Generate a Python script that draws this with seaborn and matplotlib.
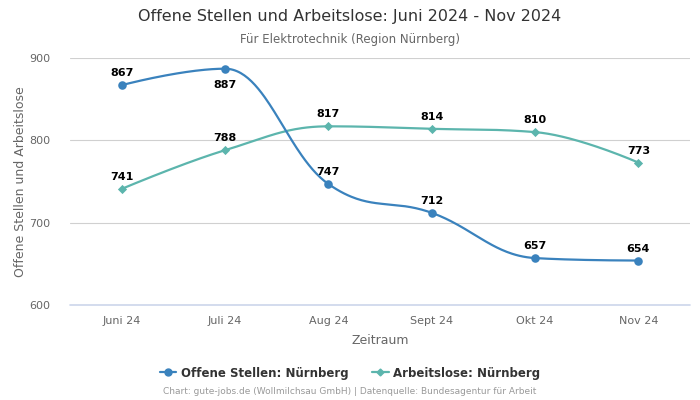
import numpy as np
import pandas as pd
import matplotlib
matplotlib.use("Agg")
import matplotlib.pyplot as plt
import seaborn as sns
from matplotlib.lines import Line2D

categories = ["Juni 24", "Juli 24", "Aug 24", "Sept 24", "Okt 24", "Nov 24"]
offene = [867, 887, 747, 712, 657, 654]
arbeitslose = [741, 788, 817, 814, 810, 773]
series_names = ["Offene Stellen: Nürnberg", "Arbeitslose: Nürnberg"]
yticks = [600, 700, 800, 900]

BLUE = "#3a82bd"
TEAL = "#5cb5ad"


def spline_path(x, y, n_seg=60, smoothing=1.5):
    """Smooth path through the data points (Highcharts-style spline)."""
    x = list(map(float, x)); y = list(map(float, y))
    n = len(x); denom = smoothing + 1
    lc = [(x[i], y[i]) for i in range(n)]
    rc = [(x[i], y[i]) for i in range(n)]
    for i in range(1, n - 1):
        lx = (smoothing * x[i] + x[i - 1]) / denom
        ly = (smoothing * y[i] + y[i - 1]) / denom
        rx = (smoothing * x[i] + x[i + 1]) / denom
        ry = (smoothing * y[i] + y[i + 1]) / denom
        corr = ((ry - ly) * (rx - x[i])) / (rx - lx) + y[i] - ry
        ly += corr; ry += corr
        if ly > y[i - 1] and ly > y[i]:
            ly = max(y[i - 1], y[i]); ry = 2 * y[i] - ly
        elif ly < y[i - 1] and ly < y[i]:
            ly = min(y[i - 1], y[i]); ry = 2 * y[i] - ly
        if ry > y[i + 1] and ry > y[i]:
            ry = max(y[i + 1], y[i]); ly = 2 * y[i] - ry
        elif ry < y[i + 1] and ry < y[i]:
            ry = min(y[i + 1], y[i]); ly = 2 * y[i] - ry
        lc[i] = (lx, ly); rc[i] = (rx, ry)
    xs, ys = [], []
    t = np.linspace(0, 1, n_seg)
    for i in range(n - 1):
        p0 = np.array([x[i], y[i]]); p1 = np.array(rc[i])
        p2 = np.array(lc[i + 1]); p3 = np.array([x[i + 1], y[i + 1]])
        b = ((1 - t) ** 3)[:, None] * p0 + (3 * (1 - t) ** 2 * t)[:, None] * p1 \
            + (3 * (1 - t) * t ** 2)[:, None] * p2 + (t ** 3)[:, None] * p3
        xs.extend(b[:, 0]); ys.extend(b[:, 1])
    return np.array(xs), np.array(ys)


sns.set_theme(style="white")
plt.rcParams['font.family'] = ['DejaVu Sans']

fig = plt.figure(figsize=(7, 4), dpi=100)
ax = fig.add_axes([0.1, 0.2375, 0.8857, 0.6175])

xpos = np.arange(len(categories))

for vals, col, mk, ms in [(arbeitslose, TEAL, "D", 22), (offene, BLUE, "o", 38)]:
    sx, sy = spline_path(xpos, vals)
    smooth = pd.DataFrame({"x": sx, "y": sy})
    sns.lineplot(data=smooth, x="x", y="y", color=col, linewidth=1.6, ax=ax,
                 zorder=3, sort=False, estimator=None)
    sns.scatterplot(x=xpos, y=vals, color=col, marker=mk, s=ms, linewidth=0, ax=ax, zorder=4)

for i, v in enumerate(offene):
    if i == 1:
        ax.annotate(str(v), (i, v), xytext=(0, -8), textcoords="offset points",
                    ha="center", va="top", fontsize=8, fontweight="bold", color="black", zorder=5)
    else:
        ax.annotate(str(v), (i, v), xytext=(0, 5), textcoords="offset points",
                    ha="center", va="bottom", fontsize=8, fontweight="bold", color="black", zorder=5)
for i, v in enumerate(arbeitslose):
    ax.annotate(str(v), (i, v), xytext=(0, 5), textcoords="offset points",
                ha="center", va="bottom", fontsize=8, fontweight="bold", color="black", zorder=5)

ax.set_xlim(-0.5, len(categories) - 0.5)
ax.set_ylim(600, 900)
ax.set_yticks(yticks)
ax.set_xticks(xpos)
ax.set_xticklabels(categories)
ax.tick_params(axis="both", colors="#666666", labelsize=8, length=0)
ax.tick_params(axis="x", pad=8)
ax.tick_params(axis="y", pad=14)
for t in ax.get_xticklabels() + ax.get_yticklabels():
    t.set_color("#666666")
ax.yaxis.grid(True, color="#d0d0d0", linewidth=0.8)
ax.set_axisbelow(True)
for s in ["top", "right", "left", "bottom"]:
    ax.spines[s].set_visible(False)
ax.axhline(600, color="#ccd6eb", linewidth=1.2, zorder=1, clip_on=False)

ax.set_xlabel("Zeitraum", fontsize=9, color="#666666", labelpad=6)
ax.set_ylabel("Offene Stellen und Arbeitslose", fontsize=9, color="#666666", labelpad=2)

fig.text(0.5, 1 - 17 / 400, "Offene Stellen und Arbeitslose: Juni 2024 - Nov 2024",
         ha="center", va="center", fontsize=11.5, color="#333333")
fig.text(0.5, 1 - 39 / 400, "Für Elektrotechnik (Region Nürnberg)",
         ha="center", va="center", fontsize=8.5, color="#666666")

handles = [Line2D([], [], color=BLUE, marker="o", markersize=5, linewidth=1.6),
           Line2D([], [], color=TEAL, marker="D", markersize=3.5, linewidth=1.6)]
leg = fig.legend(handles, series_names, loc="center", bbox_to_anchor=(0.5, 1 - 373 / 400),
                 ncol=2, frameon=False, handlelength=1.4, handletextpad=0.4, columnspacing=2.0,
                 prop={"weight": "bold", "size": 8.5})
for t in leg.get_texts():
    t.set_color("#333333")

fig.text(0.5, 1 - 392 / 400,
         "Chart: gute-jobs.de (Wollmilchsau GmbH) | Datenquelle: Bundesagentur für Arbeit",
         ha="center", va="center", fontsize=6.5, color="#999999")

fig.savefig("out.png", dpi=100)
